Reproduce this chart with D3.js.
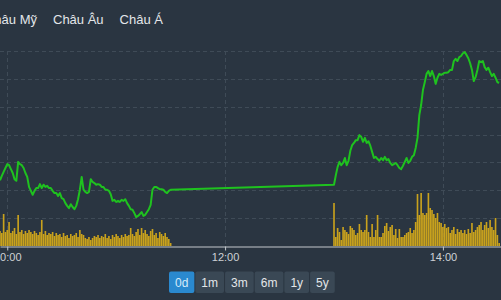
<!DOCTYPE html>
<html>
<head>
<meta charset="utf-8">
<script src="https://cdn.jsdelivr.net/npm/d3@7"></script>
<style>
  html, body { margin: 0; padding: 0; background: #2a3541; overflow: hidden; }
  svg { display: block; font-family: "Liberation Sans", Arial, sans-serif; }
</style>
</head>
<body>
<script>
// Data
const regions = ["Châu Mỹ", "Châu Âu", "Châu Á"]
const ranges = ["0d", "1m", "3m", "6m", "1y", "5y"]
const activeRange = "0d"
const sessionDay = "2024-01-15"
const viewStart = "09:56"
const viewEnd = "14:32"
const morningOpen = "09:56"
const afternoonOpen = "13:00"

// one value per minute
const morningPrice = [
  3011.8, 3012.6, 3013.3, 3014.0, 3014.7, 3014.5, 3013.8, 3013.1, 3012.0, 3011.7,
  3015.1, 3014.7, 3014.5, 3014.0, 3013.1, 3012.4, 3010.6, 3009.9, 3009.2, 3009.9,
  3010.4, 3010.4, 3011.1, 3010.4, 3011.0, 3010.6, 3010.8, 3010.4, 3010.4, 3009.9,
  3009.5, 3009.5, 3009.0, 3009.5, 3008.6, 3008.4, 3007.7, 3007.2, 3006.8, 3007.5,
  3007.0, 3006.6, 3007.2, 3008.4, 3010.1, 3012.4, 3010.1, 3009.7, 3009.5, 3009.7,
  3012.0, 3011.5, 3011.3, 3011.0, 3011.1, 3011.0, 3010.6, 3010.6, 3010.1, 3010.1,
  3009.9, 3009.3, 3008.1, 3008.3, 3007.9, 3008.1, 3007.9, 3008.3, 3008.1, 3008.4,
  3007.7, 3007.2, 3006.6, 3006.5, 3005.9, 3005.2, 3005.4, 3005.7, 3006.1, 3005.4,
  3005.6, 3006.1, 3006.6, 3007.4, 3010.1, 3010.6, 3010.6, 3010.4, 3010.2, 3010.2,
  3010.1, 3009.7, 3009.5, 3009.9, 3010.1
]
const afternoonPrice = [
  3011.0, 3012.7, 3014.2, 3015.1, 3014.5, 3014.9, 3015.8, 3014.5, 3015.3, 3017.1,
  3018.1, 3018.5, 3019.0, 3019.0, 3019.9, 3019.6, 3018.7, 3019.4, 3018.5, 3018.8,
  3018.0, 3016.9, 3015.8, 3016.0, 3015.6, 3015.3, 3015.8, 3015.4, 3016.0, 3015.4,
  3015.6, 3014.9, 3014.5, 3014.7, 3014.9, 3014.5, 3014.0, 3013.8, 3014.4, 3015.1,
  3015.8, 3014.9, 3015.3, 3016.0, 3016.3, 3017.6, 3019.4, 3023.5, 3025.3, 3028.0,
  3029.4, 3030.9, 3031.4, 3030.5, 3031.4, 3030.5, 3029.1, 3030.2, 3030.9, 3030.7,
  3030.9, 3031.1, 3031.1, 3031.2, 3031.6, 3031.6, 3033.2, 3033.6, 3033.2, 3033.9,
  3034.1, 3034.6, 3034.8, 3034.3, 3033.7, 3032.8, 3031.6, 3029.6, 3030.3, 3031.6,
  3033.2, 3033.0, 3033.2, 3032.1, 3031.6, 3032.0, 3031.2, 3030.5, 3030.9, 3030.2,
  3029.4, 3029.3
]
const morningVolume = [
  15, 13, 32, 14, 16, 24, 13, 15, 18, 12,
  31, 14, 16, 12, 15, 13, 16, 14, 12, 15,
  13, 11, 14, 26, 12, 15, 11, 13, 12, 14,
  10, 13, 11, 12, 9, 13, 10, 11, 8, 12,
  10, 11, 13, 9, 16, 12, 11, 8, 7, 9,
  6, 8, 10, 9, 11, 8, 10, 9, 12, 8,
  10, 7, 11, 9, 12, 10, 8, 11, 9, 12,
  10, 11, 18, 12, 10, 14, 17, 11, 18, 13,
  16, 12, 10, 15, 17, 11, 13, 8, 14, 12,
  10, 13, 9, 7, 3
]
const afternoonVolume = [
  43, 9, 18, 14, 6, 19, 16, 14, 12, 20,
  18, 16, 11, 13, 22, 16, 14, 16, 31, 14,
  9, 22, 9, 16, 31, 9, 9, 13, 20, 23,
  15, 19, 21, 11, 17, 8, 17, 9, 9, 11,
  13, 14, 18, 13, 16, 24, 52, 31, 53, 33,
  31, 33, 53, 38, 36, 32, 28, 33, 24, 23,
  19, 22, 18, 19, 13, 16, 19, 12, 17, 14,
  16, 13, 16, 12, 17, 13, 23, 14, 16, 19,
  21, 24, 16, 21, 24, 18, 26, 19, 16, 28,
  11, 3
]

// Config
const width = 501
const height = 300
const plot = { top: 51, bottom: 246 }
const colors = {
  bg: "#2a3541",
  grid: "#3f4b57",
  axis: "#c3c8cd",
  text: "#e3e6e9",
  line: "#1fc21f",
  volume: "#c9a21d",
  button: "#3a4855",
  active: "#2a89cf",
}

// Prepare data
const parse = d3.timeParse("%Y-%m-%d %H:%M")
const at = (hm) => parse(`${sessionDay} ${hm}`)
const session = (open, prices, volumes) => prices.map((p, i) => ({ t: d3.timeMinute.offset(at(open), i), p, v: volumes[i] }))
const data = [...session(morningOpen, morningPrice, morningVolume), ...session(afternoonOpen, afternoonPrice, afternoonVolume)]

// Create SVG
const svg = d3.select("body").append("svg")
  .attr("width", width)
  .attr("height", height)
svg.append("rect").attr("width", width).attr("height", height).attr("fill", colors.bg)

// Scales
const x = d3.scaleTime().domain([at(viewStart), at(viewEnd)]).range([0, width])
const y = d3.scaleLinear().domain([3000, 3035]).range([plot.bottom, plot.top])
const yv = d3.scaleLinear().domain([0, 60]).range([plot.bottom, plot.bottom - 60])
const hours = x.ticks(d3.timeHour.every(2))

// Grid
svg.append("g")
  .selectAll("line")
  .data(y.ticks(7).filter((d) => d > 3000))
  .join("line")
  .attr("x1", 0)
  .attr("x2", width)
  .attr("y1", (d) => Math.round(y(d)) + 0.5)
  .attr("y2", (d) => Math.round(y(d)) + 0.5)
  .attr("stroke", colors.grid)
  .attr("stroke-dasharray", "4,3")
svg.append("g")
  .selectAll("line")
  .data(hours)
  .join("line")
  .attr("x1", (d) => Math.round(x(d)) + 0.5)
  .attr("x2", (d) => Math.round(x(d)) + 0.5)
  .attr("y1", plot.top)
  .attr("y2", plot.bottom)
  .attr("stroke", colors.grid)
  .attr("stroke-dasharray", "4,3")

// Volume bars
const step = x(d3.timeMinute.offset(at(viewStart), 1)) - x(at(viewStart))
svg.append("g")
  .selectAll("rect")
  .data(data)
  .join("rect")
  .attr("x", (d) => x(d.t) - step * 0.45)
  .attr("y", (d) => yv(d.v))
  .attr("width", step * 0.9)
  .attr("height", (d) => yv(0) - yv(d.v))
  .attr("fill", colors.volume)

// Price line
svg.append("path")
  .datum(data)
  .attr("d", d3.line().x((d) => x(d.t)).y((d) => y(d.p)))
  .attr("fill", "none")
  .attr("stroke", colors.line)
  .attr("stroke-width", 2)
  .attr("stroke-linejoin", "round")

// X axis
svg.append("g")
  .attr("transform", `translate(0,${plot.bottom + 0.5})`)
  .call(d3.axisBottom(x).tickValues(hours).tickFormat(d3.timeFormat("%H:%M")).tickSize(4).tickSizeOuter(0))
  .call((g) => g.select(".domain").attr("stroke", colors.axis))
  .call((g) => g.selectAll(".tick line").attr("stroke", colors.axis))
  .selectAll("text")
  .attr("fill", "#cdd1d5")
  .style("font-size", "11px")
  .style("font-family", "\"Liberation Sans\", Arial, sans-serif")

// Region tabs
const tabs = svg.append("g").attr("font-size", "13px").attr("fill", colors.text)
let cursor = null
regions.forEach((name) => {
  const t = tabs.append("text").attr("y", 24).text(name)
  const len = t.node().getComputedTextLength()
  if (cursor === null) cursor = 37 - len
  t.attr("x", cursor)
  cursor += len + 16
})

// Range buttons
const buttons = svg.append("g").attr("font-size", "12px")
let bx = 169
ranges.forEach((label) => {
  const g = buttons.append("g")
  const rect = g.append("rect")
  const t = g.append("text").attr("y", 287).attr("text-anchor", "middle").text(label)
  const w = t.node().getComputedTextLength() + 12
  const active = label === activeRange
  rect.attr("x", bx).attr("y", 271.5).attr("width", w).attr("height", 21.5).attr("rx", 2)
    .attr("fill", active ? colors.active : colors.button)
  t.attr("x", bx + w / 2).attr("fill", active ? "#d6ebfa" : colors.text)
  bx += w + 1
})
</script>
</body>
</html>
